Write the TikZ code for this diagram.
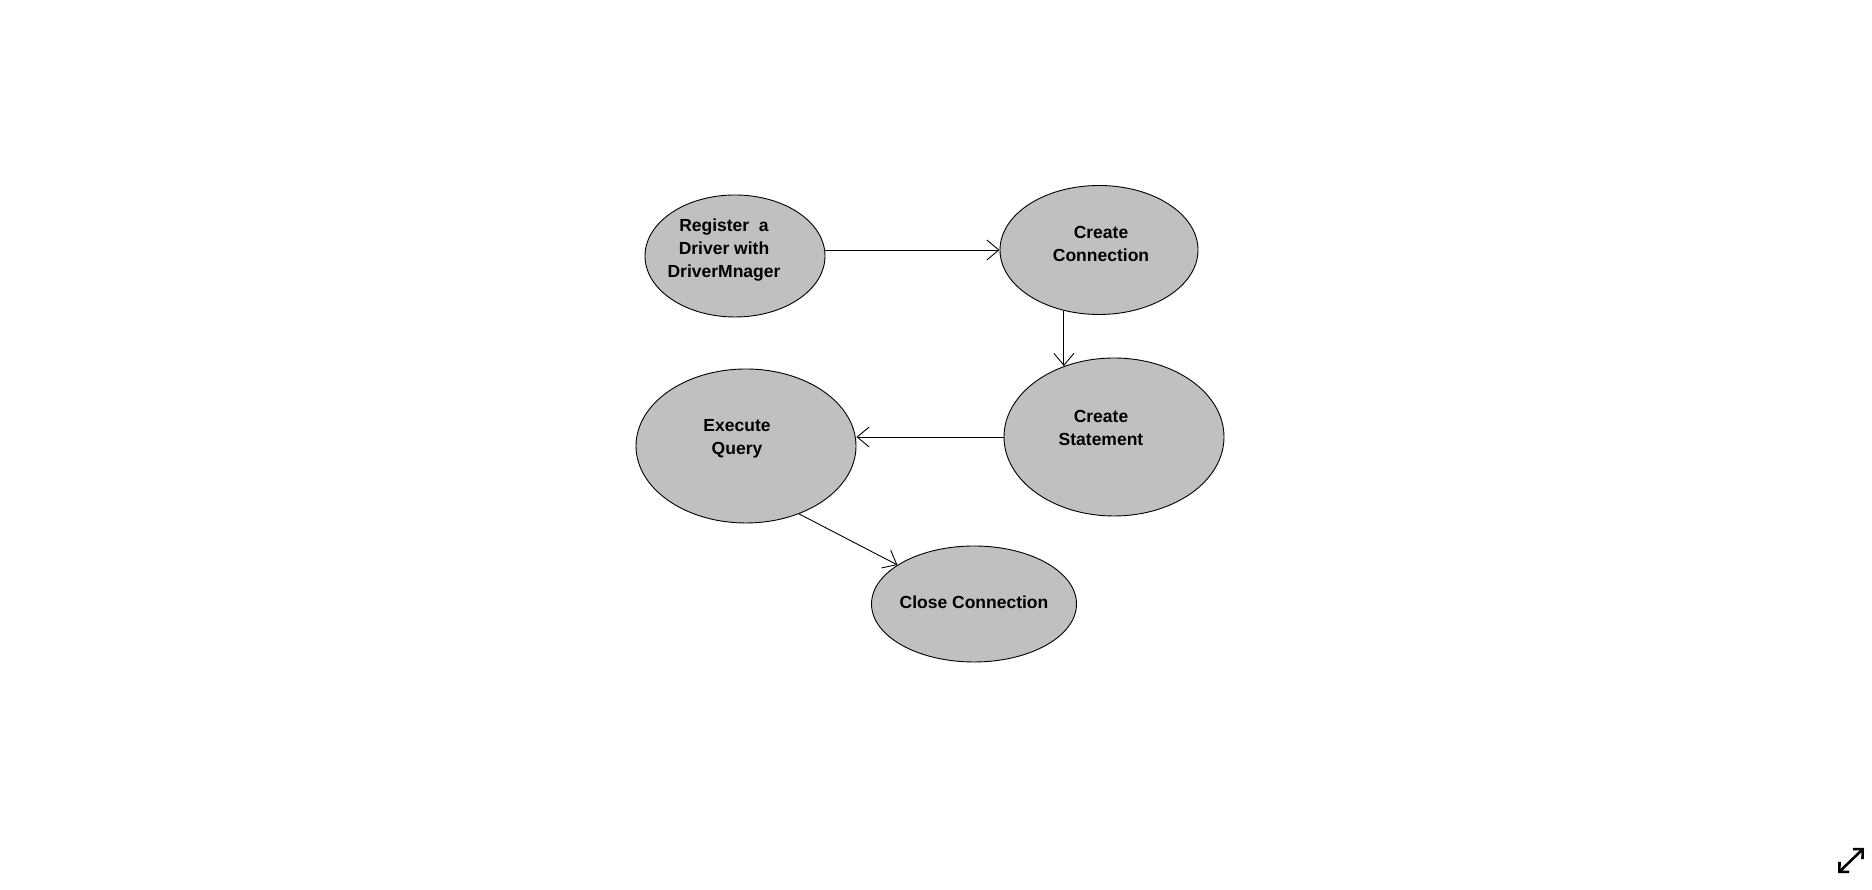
\documentclass[tikz,border=0pt]{standalone}
\usepackage{fontspec}
\setmainfont{Liberation Sans}
\usetikzlibrary{shapes.geometric,arrows.meta}
\definecolor{phasegray}{RGB}{192,192,192}

\begin{document}
\begin{tikzpicture}[x=1pt,y=1pt,
  phase/.style={ellipse,draw,line width=0.9pt,fill=phasegray,inner sep=0pt},
  phase text/.style={font=\fontsize{17.5}{22.7}\selectfont\bfseries,
    align=center,inner sep=0pt},
  flow/.style={-{Straight Barb[length=12pt,width=20pt]},line width=0.9pt},]

\useasboundingbox (0,0) rectangle (1872,890);

% Phases (ellipses)
\node[phase,minimum width=180,minimum height=122] (reg) at (735,634) {};
\node[phase,minimum width=198,minimum height=129] (conn) at (1099,640) {};
\node[phase,minimum width=220,minimum height=158] (stmt) at (1114,453) {};
\node[phase,minimum width=220,minimum height=154] (exec) at (746,444) {};
\node[phase,minimum width=205,minimum height=116] (close) at (974,286) {};

% Phase labels
\node[phase text] (reg text) at (724,640) {Register~~a\\Driver with\\DriverMnager};
\node[phase text] (conn text) at (1101,646) {Create\\Connection};
\node[phase text] (stmt text) at (1101,462) {Create\\Statement};
\node[phase text] (exec text) at (737,451) {Execute\\Query};
\node[phase text] (close text) at (974,288) {Close Connection};

% Flows
\draw[flow] (reg.east |- conn.west) -- (conn.west);
\draw[flow] (conn.240) -- (conn.240 |- stmt.125);
\draw[flow] (stmt.west) -- (stmt.west -| exec.east);
\draw[flow] (exec.308) -- (close.153);

% Expand icon
\coordinate (icon sw) at (1838,17);
\coordinate (icon ne) at (1864,42);
\draw[{Straight Barb[length=7pt,width=14pt]}-{Straight Barb[length=7pt,width=14pt]},
  line width=2.6pt] (icon sw) -- (icon ne);

\end{tikzpicture}
\end{document}
